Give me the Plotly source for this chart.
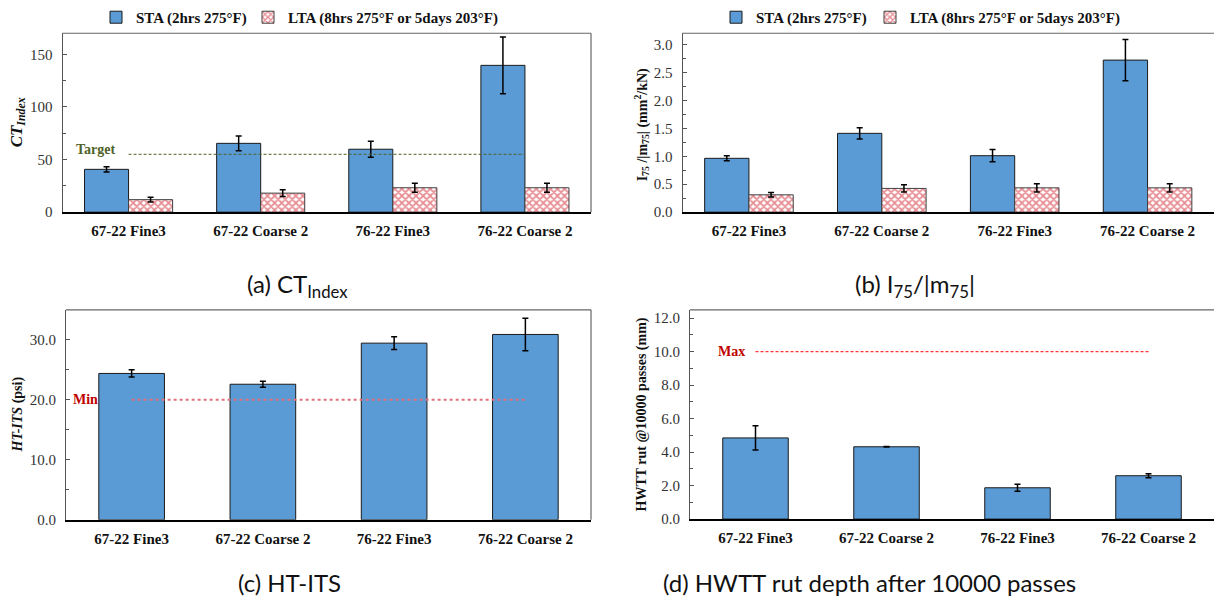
import plotly.graph_objects as go

# ---- data ----
mixes = ["67-22 Fine3", "67-22 Coarse 2", "76-22 Fine3", "76-22 Coarse 2"]

ct_sta = [40.7, 65.4, 59.8, 139.5]
ct_sta_err = [2.5, 7.0, 7.5, 27.0]
ct_lta = [11.9, 18.1, 23.2, 23.2]
ct_lta_err = [2.2, 3.3, 4.2, 4.2]
ct_target = 55

fi_sta = [0.963, 1.41, 1.01, 2.72]
fi_sta_err = [0.045, 0.10, 0.11, 0.37]
fi_lta = [0.31, 0.425, 0.435, 0.435]
fi_lta_err = [0.04, 0.065, 0.075, 0.075]

its = [24.4, 22.6, 29.45, 30.9]
its_err = [0.6, 0.5, 1.05, 2.7]
its_min = 20

rut = [4.85, 4.32, 1.87, 2.59]
rut_err = [0.72, 0.02, 0.21, 0.12]
rut_max = 10

sta_name = "STA (2hrs 275°F)"
lta_name = "LTA (8hrs 275°F or 5days 203°F)"

# ---- styling ----
W, H = 1214, 608
SERIF = "Liberation Serif"
BLUE = "#5B9BD5"
EDGE = "#1a1a1a"


def px_x(a, b):
    return [a / W, min(b / W, 1.0)]


def px_y(top, bottom):
    return [1 - bottom / H, 1 - top / H]


fig = go.Figure()

err_style = dict(type="data", color="black", thickness=1.5, width=3)
sta_marker = dict(color=BLUE, line=dict(color=EDGE, width=1))
lta_marker = dict(color="white",
                  pattern=dict(shape="x", fgcolor="#D01E2A", bgcolor="white",
                               size=5, solidity=0.6),
                  line=dict(color="#404040", width=1))

# (a) CT index
fig.add_bar(x=mixes, y=ct_sta, name=sta_name, marker=sta_marker,
            error_y=dict(array=ct_sta_err, **err_style), legendwidth=107,
            xaxis="x", yaxis="y", legend="legend")
fig.add_bar(x=mixes, y=ct_lta, name=lta_name, marker=lta_marker,
            error_y=dict(array=ct_lta_err, **err_style),
            xaxis="x", yaxis="y", legend="legend")
fig.add_scatter(x=[mixes[0], mixes[-1]], y=[ct_target, ct_target], mode="lines",
                line=dict(color="#4F6228", width=1, dash="3px,2px"),
                showlegend=False, hoverinfo="skip", xaxis="x", yaxis="y")

# (b) I75/|m75|
fig.add_bar(x=mixes, y=fi_sta, name=sta_name, marker=sta_marker,
            error_y=dict(array=fi_sta_err, **err_style), legendwidth=109,
            xaxis="x2", yaxis="y2", legend="legend2")
fig.add_bar(x=mixes, y=fi_lta, name=lta_name, marker=lta_marker,
            error_y=dict(array=fi_lta_err, **err_style),
            xaxis="x2", yaxis="y2", legend="legend2")

# (c) HT-ITS
fig.add_bar(x=mixes, y=its, marker=sta_marker, showlegend=False,
            error_y=dict(array=its_err, **err_style), xaxis="x3", yaxis="y3")
fig.add_scatter(x=[mixes[0], mixes[-1]], y=[its_min, its_min], mode="lines",
                line=dict(color="#E0707C", width=2, dash="dot"),
                showlegend=False, hoverinfo="skip", xaxis="x3", yaxis="y3")

# (d) HWTT rut depth
fig.add_bar(x=mixes, y=rut, marker=sta_marker, showlegend=False,
            error_y=dict(array=rut_err, **err_style), xaxis="x4", yaxis="y4")
fig.add_scatter(x=[mixes[0], mixes[-1]], y=[rut_max, rut_max], mode="lines",
                line=dict(color="#FF0000", width=1, dash="3px,2px"),
                showlegend=False, hoverinfo="skip", xaxis="x4", yaxis="y4")

tickfont = dict(family=SERIF, size=15, color="#333333")
xtickfont = dict(family=SERIF, size=15, color="#111111", weight="bold")


def xaxis(domain, anchor):
    return dict(domain=domain, anchor=anchor, type="category",
                range=[-0.5, 3.5], showline=True, linecolor="black",
                linewidth=1.5, ticks="", tickfont=xtickfont,
                ticklabelstandoff=4,
                showgrid=False, zeroline=False, fixedrange=True)


def yaxis(domain, anchor, rng, dtick, minor, fmt):
    return dict(domain=domain, anchor=anchor, range=rng, dtick=dtick,
                tickformat=fmt, showline=True, linecolor="#555555",
                linewidth=1.2, ticks="inside", ticklen=4, tickcolor="#555555",
                minor=dict(dtick=minor, ticks="inside", ticklen=3,
                           tickcolor="#555555"),
                tickfont=tickfont, ticklabelstandoff=6,
                showgrid=False, zeroline=False, fixedrange=True)


dom_a = (px_x(62.5, 591), px_y(33.7, 215))
dom_b = (px_x(682.5, 1215), px_y(33.7, 215))
dom_c = (px_x(66, 591), px_y(314, 526.7))
dom_d = (px_x(690, 1215), px_y(314, 526))

legend_common = dict(orientation="h", xanchor="left", yanchor="middle",
                     xref="paper", yref="paper", bgcolor="rgba(0,0,0,0)",
                     font=dict(family=SERIF, size=15, color="#111111",
                               weight="bold"),
                     itemwidth=30, tracegroupgap=0)

fig.update_layout(
    width=W, height=H, margin=dict(l=0, r=0, t=0, b=0),
    paper_bgcolor="white", plot_bgcolor="white",
    barmode="group", bargap=1 / 3, bargroupgap=0,
    xaxis=xaxis(dom_a[0], "y"), yaxis=yaxis(dom_a[1], "x", [0, 170], 50, 25, "d"),
    xaxis2=xaxis(dom_b[0], "y2"), yaxis2=yaxis(dom_b[1], "x2", [0, 3.2], 0.5, 0.25, ".1f"),
    xaxis3=xaxis(dom_c[0], "y3"), yaxis3=yaxis(dom_c[1], "x3", [0, 35], 10, 5, ".1f"),
    xaxis4=xaxis(dom_d[0], "y4"), yaxis4=yaxis(dom_d[1], "x4", [0, 12.5], 2, 1, ".1f"),
    legend=dict(x=96 / W, y=1 - 17.7 / H, **legend_common),
    legend2=dict(x=716 / W, y=1 - 17.7 / H, **legend_common),
    showlegend=True,
)

# single-series panels use wider bars
fig.update_traces(width=0.5, selector=dict(xaxis="x3", type="bar"))
fig.update_traces(width=0.5, selector=dict(xaxis="x4", type="bar"))

# plot-area frames (top and right edges)
frame = dict(type="line", line=dict(color="#666666", width=1.2), layer="above")
for xa, ya, right in [("x", "y", True), ("x2", "y2", False),
                      ("x3", "y3", True), ("x4", "y4", False)]:
    fig.add_shape(x0=0, x1=1, y0=1, y1=1, xref=f"{xa} domain",
                  yref=f"{ya} domain", **frame)
    if right:
        fig.add_shape(x0=1, x1=1, y0=0, y1=1, xref=f"{xa} domain",
                      yref=f"{ya} domain", **frame)

ann_font = dict(family=SERIF, size=14, color="#111111", weight="bold")
cap_font = dict(family="Lato", size=24, color="#111111")
annotations = [
    # y-axis titles
    dict(text="<i>CT<sub>Index</sub></i>", x=18 / W, y=1 - 124 / H,
         textangle=-90, font=dict(ann_font, size=17)),
    dict(text="I<sub>75</sub> /|m<sub>75</sub>| (mm<sup>2</sup>/kN)",
         x=642 / W, y=1 - 126 / H, textangle=-90, font=ann_font),
    dict(text="<i>HT-ITS</i> (psi)", x=18 / W, y=1 - 420 / H,
         textangle=-90, font=ann_font),
    dict(text="HWTT rut @10000 passes (mm)", x=642 / W, y=1 - 420 / H,
         textangle=-90, font=ann_font),
    # reference line labels
    dict(text="Target", x=96 / W, y=1 - 151.5 / H,
         font=dict(family=SERIF, size=14, color="#4F6228", weight="bold")),
    dict(text="Min", x=85 / W, y=1 - 405 / H,
         font=dict(family=SERIF, size=14, color="#C00000", weight="bold")),
    dict(text="Max", x=731 / W, y=1 - 356.5 / H,
         font=dict(family=SERIF, size=14, color="#C00000", weight="bold")),
    # panel captions
    dict(text="(a) CT<sub>Index</sub>", x=297 / W, y=1 - 289 / H, font=cap_font),
    dict(text="(b) I<sub>75</sub>/|m<sub>75</sub>|", x=915 / W, y=1 - 289 / H,
         font=cap_font),
    dict(text="(c) HT-ITS", x=289 / W, y=1 - 590 / H, font=cap_font),
    dict(text="(d) HWTT rut depth after 10000 passes", x=869 / W, y=1 - 590 / H,
         font=cap_font),
]
for a in annotations:
    a.update(xref="paper", yref="paper", showarrow=False,
             xanchor="center", yanchor="middle")
fig.update_layout(annotations=annotations)

fig.write_html("out.html", config=dict(displayModeBar=False))
